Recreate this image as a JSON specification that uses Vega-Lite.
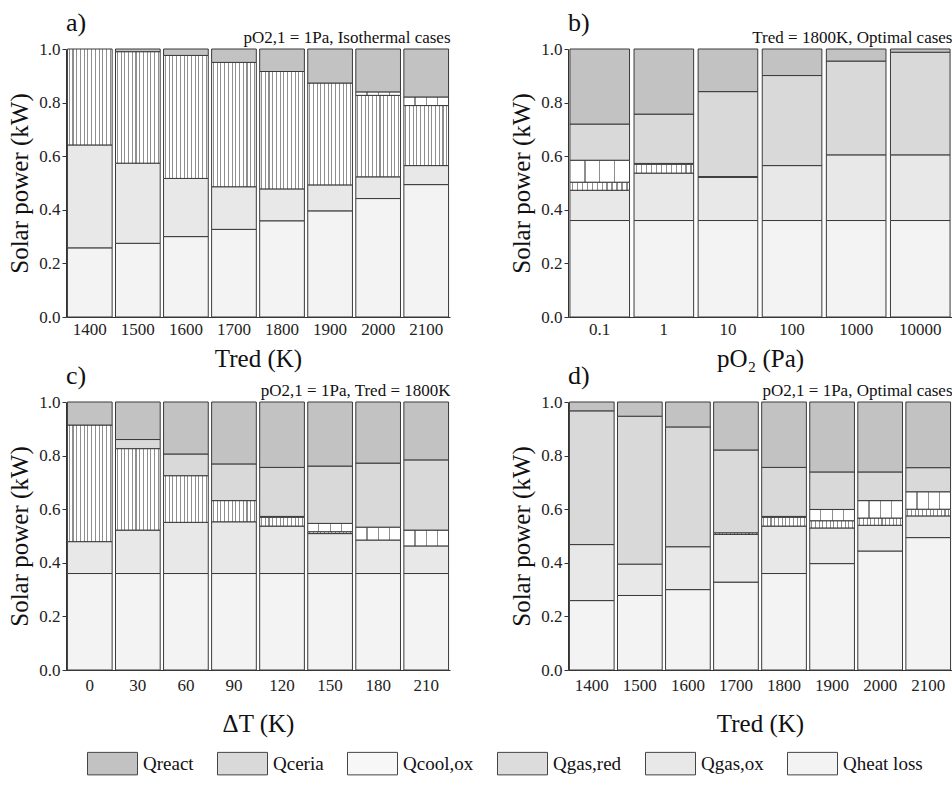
{
  "$schema": "https://vega.github.io/schema/vega-lite/v6.json",
  "padding": {"left": 7, "top": 10, "right": 0, "bottom": 0},
  "config": {
    "font": "Liberation Serif",
    "view": {"stroke": null},
    "axis": {"labelFont": "Liberation Serif", "titleFont": "Liberation Serif", "labelFontSize": 17, "titleFontSize": 25, "titleFontWeight": "normal", "labelColor": "#222", "titleColor": "#111", "domainColor": "#333", "tickColor": "#333", "grid": false},
    "axisY": {"tickSize": 4, "labelPadding": 2, "titlePadding": 6},
    "axisX": {"ticks": false, "labelPadding": 4, "titlePadding": 9},
    "title": {"font": "Liberation Serif", "fontSize": 26, "fontWeight": "normal", "anchor": "start", "frame": "group", "offset": -8, "color": "#111"},
    "legend": {"labelFont": "Liberation Serif", "labelFontSize": 19, "labelColor": "#111"}
  },
  "datasets": {
    "a": [
      {"x": 1400, "comp": "Qheat loss", "v": 0.258}, {"x": 1400, "comp": "Qgas,ox", "v": 0.384}, {"x": 1400, "comp": "Qgas,red", "v": 0.358},
      {"x": 1500, "comp": "Qheat loss", "v": 0.275}, {"x": 1500, "comp": "Qgas,ox", "v": 0.299}, {"x": 1500, "comp": "Qgas,red", "v": 0.416}, {"x": 1500, "comp": "Qreact", "v": 0.010},
      {"x": 1600, "comp": "Qheat loss", "v": 0.300}, {"x": 1600, "comp": "Qgas,ox", "v": 0.217}, {"x": 1600, "comp": "Qgas,red", "v": 0.459}, {"x": 1600, "comp": "Qreact", "v": 0.024},
      {"x": 1700, "comp": "Qheat loss", "v": 0.327}, {"x": 1700, "comp": "Qgas,ox", "v": 0.159}, {"x": 1700, "comp": "Qgas,red", "v": 0.464}, {"x": 1700, "comp": "Qreact", "v": 0.050},
      {"x": 1800, "comp": "Qheat loss", "v": 0.359}, {"x": 1800, "comp": "Qgas,ox", "v": 0.119}, {"x": 1800, "comp": "Qgas,red", "v": 0.438}, {"x": 1800, "comp": "Qreact", "v": 0.084},
      {"x": 1900, "comp": "Qheat loss", "v": 0.396}, {"x": 1900, "comp": "Qgas,ox", "v": 0.097}, {"x": 1900, "comp": "Qgas,red", "v": 0.380}, {"x": 1900, "comp": "Qreact", "v": 0.127},
      {"x": 2000, "comp": "Qheat loss", "v": 0.442}, {"x": 2000, "comp": "Qgas,ox", "v": 0.081}, {"x": 2000, "comp": "Qgas,red", "v": 0.304}, {"x": 2000, "comp": "Qcool,ox", "v": 0.013}, {"x": 2000, "comp": "Qreact", "v": 0.160},
      {"x": 2100, "comp": "Qheat loss", "v": 0.494}, {"x": 2100, "comp": "Qgas,ox", "v": 0.071}, {"x": 2100, "comp": "Qgas,red", "v": 0.224}, {"x": 2100, "comp": "Qcool,ox", "v": 0.032}, {"x": 2100, "comp": "Qreact", "v": 0.179}
    ],
    "b": [
      {"x": 0.1, "comp": "Qheat loss", "v": 0.360}, {"x": 0.1, "comp": "Qgas,ox", "v": 0.113}, {"x": 0.1, "comp": "Qgas,red", "v": 0.030}, {"x": 0.1, "comp": "Qcool,ox", "v": 0.082}, {"x": 0.1, "comp": "Qceria", "v": 0.135}, {"x": 0.1, "comp": "Qreact", "v": 0.280},
      {"x": 1, "comp": "Qheat loss", "v": 0.360}, {"x": 1, "comp": "Qgas,ox", "v": 0.177}, {"x": 1, "comp": "Qgas,red", "v": 0.033}, {"x": 1, "comp": "Qcool,ox", "v": 0.003}, {"x": 1, "comp": "Qceria", "v": 0.184}, {"x": 1, "comp": "Qreact", "v": 0.243},
      {"x": 10, "comp": "Qheat loss", "v": 0.360}, {"x": 10, "comp": "Qgas,ox", "v": 0.161}, {"x": 10, "comp": "Qgas,red", "v": 0.003}, {"x": 10, "comp": "Qceria", "v": 0.317}, {"x": 10, "comp": "Qreact", "v": 0.159},
      {"x": 100, "comp": "Qheat loss", "v": 0.360}, {"x": 100, "comp": "Qgas,ox", "v": 0.205}, {"x": 100, "comp": "Qceria", "v": 0.336}, {"x": 100, "comp": "Qreact", "v": 0.099},
      {"x": 1000, "comp": "Qheat loss", "v": 0.360}, {"x": 1000, "comp": "Qgas,ox", "v": 0.245}, {"x": 1000, "comp": "Qceria", "v": 0.350}, {"x": 1000, "comp": "Qreact", "v": 0.045},
      {"x": 10000, "comp": "Qheat loss", "v": 0.360}, {"x": 10000, "comp": "Qgas,ox", "v": 0.245}, {"x": 10000, "comp": "Qceria", "v": 0.383}, {"x": 10000, "comp": "Qreact", "v": 0.012}
    ],
    "c": [
      {"x": 0, "comp": "Qheat loss", "v": 0.360}, {"x": 0, "comp": "Qgas,ox", "v": 0.119}, {"x": 0, "comp": "Qgas,red", "v": 0.435}, {"x": 0, "comp": "Qreact", "v": 0.086},
      {"x": 30, "comp": "Qheat loss", "v": 0.360}, {"x": 30, "comp": "Qgas,ox", "v": 0.162}, {"x": 30, "comp": "Qgas,red", "v": 0.304}, {"x": 30, "comp": "Qceria", "v": 0.034}, {"x": 30, "comp": "Qreact", "v": 0.140},
      {"x": 60, "comp": "Qheat loss", "v": 0.360}, {"x": 60, "comp": "Qgas,ox", "v": 0.191}, {"x": 60, "comp": "Qgas,red", "v": 0.174}, {"x": 60, "comp": "Qceria", "v": 0.081}, {"x": 60, "comp": "Qreact", "v": 0.194},
      {"x": 90, "comp": "Qheat loss", "v": 0.360}, {"x": 90, "comp": "Qgas,ox", "v": 0.193}, {"x": 90, "comp": "Qgas,red", "v": 0.079}, {"x": 90, "comp": "Qceria", "v": 0.137}, {"x": 90, "comp": "Qreact", "v": 0.231},
      {"x": 120, "comp": "Qheat loss", "v": 0.360}, {"x": 120, "comp": "Qgas,ox", "v": 0.177}, {"x": 120, "comp": "Qgas,red", "v": 0.033}, {"x": 120, "comp": "Qcool,ox", "v": 0.003}, {"x": 120, "comp": "Qceria", "v": 0.183}, {"x": 120, "comp": "Qreact", "v": 0.244},
      {"x": 150, "comp": "Qheat loss", "v": 0.360}, {"x": 150, "comp": "Qgas,ox", "v": 0.149}, {"x": 150, "comp": "Qgas,red", "v": 0.007}, {"x": 150, "comp": "Qcool,ox", "v": 0.031}, {"x": 150, "comp": "Qceria", "v": 0.214}, {"x": 150, "comp": "Qreact", "v": 0.239},
      {"x": 180, "comp": "Qheat loss", "v": 0.360}, {"x": 180, "comp": "Qgas,ox", "v": 0.125}, {"x": 180, "comp": "Qcool,ox", "v": 0.048}, {"x": 180, "comp": "Qceria", "v": 0.239}, {"x": 180, "comp": "Qreact", "v": 0.228},
      {"x": 210, "comp": "Qheat loss", "v": 0.360}, {"x": 210, "comp": "Qgas,ox", "v": 0.103}, {"x": 210, "comp": "Qcool,ox", "v": 0.059}, {"x": 210, "comp": "Qceria", "v": 0.262}, {"x": 210, "comp": "Qreact", "v": 0.216}
    ],
    "d": [
      {"x": 1400, "comp": "Qheat loss", "v": 0.259}, {"x": 1400, "comp": "Qgas,ox", "v": 0.209}, {"x": 1400, "comp": "Qceria", "v": 0.499}, {"x": 1400, "comp": "Qreact", "v": 0.033},
      {"x": 1500, "comp": "Qheat loss", "v": 0.278}, {"x": 1500, "comp": "Qgas,ox", "v": 0.117}, {"x": 1500, "comp": "Qceria", "v": 0.552}, {"x": 1500, "comp": "Qreact", "v": 0.053},
      {"x": 1600, "comp": "Qheat loss", "v": 0.300}, {"x": 1600, "comp": "Qgas,ox", "v": 0.160}, {"x": 1600, "comp": "Qceria", "v": 0.447}, {"x": 1600, "comp": "Qreact", "v": 0.093},
      {"x": 1700, "comp": "Qheat loss", "v": 0.328}, {"x": 1700, "comp": "Qgas,ox", "v": 0.178}, {"x": 1700, "comp": "Qgas,red", "v": 0.006}, {"x": 1700, "comp": "Qceria", "v": 0.309}, {"x": 1700, "comp": "Qreact", "v": 0.179},
      {"x": 1800, "comp": "Qheat loss", "v": 0.360}, {"x": 1800, "comp": "Qgas,ox", "v": 0.177}, {"x": 1800, "comp": "Qgas,red", "v": 0.033}, {"x": 1800, "comp": "Qcool,ox", "v": 0.003}, {"x": 1800, "comp": "Qceria", "v": 0.183}, {"x": 1800, "comp": "Qreact", "v": 0.244},
      {"x": 1900, "comp": "Qheat loss", "v": 0.397}, {"x": 1900, "comp": "Qgas,ox", "v": 0.133}, {"x": 1900, "comp": "Qgas,red", "v": 0.027}, {"x": 1900, "comp": "Qcool,ox", "v": 0.042}, {"x": 1900, "comp": "Qceria", "v": 0.140}, {"x": 1900, "comp": "Qreact", "v": 0.261},
      {"x": 2000, "comp": "Qheat loss", "v": 0.444}, {"x": 2000, "comp": "Qgas,ox", "v": 0.096}, {"x": 2000, "comp": "Qgas,red", "v": 0.027}, {"x": 2000, "comp": "Qcool,ox", "v": 0.065}, {"x": 2000, "comp": "Qceria", "v": 0.107}, {"x": 2000, "comp": "Qreact", "v": 0.261},
      {"x": 2100, "comp": "Qheat loss", "v": 0.494}, {"x": 2100, "comp": "Qgas,ox", "v": 0.081}, {"x": 2100, "comp": "Qgas,red", "v": 0.025}, {"x": 2100, "comp": "Qcool,ox", "v": 0.065}, {"x": 2100, "comp": "Qceria", "v": 0.090}, {"x": 2100, "comp": "Qreact", "v": 0.245}
    ]
  },
  "vconcat": [
    {"hconcat": [
      {"width": 384, "height": 268, "data": {"name": "a"}, "title": {"text": "a)"},
       "layer": [
         {"transform": [{"calculate": "indexof(['Qheat loss','Qgas,ox','Qgas,red','Qcool,ox','Qceria','Qreact'], datum.comp)", "as": "k"}],
          "mark": {"type": "bar", "stroke": "#3a3a3a", "strokeWidth": 1},
          "encoding": {
            "x": {"field": "x", "type": "ordinal", "scale": {"paddingInner": 0.07, "paddingOuter": 0.03}, "axis": {"title": "Tred (K)", "labelAngle": 0}},
            "y": {"field": "v", "type": "quantitative", "stack": "zero", "scale": {"domain": [0, 1]}, "axis": {"title": "Solar power (kW)", "values": [0, 0.2, 0.4, 0.6, 0.8, 1.0], "format": ".1f"}},
            "order": {"field": "k", "type": "quantitative", "sort": "ascending"},
            "color": {
              "condition": [
                {"test": "datum.comp === 'Qgas,red'", "value": {"gradient": "linear", "x1": 0, "y1": 0, "x2": 1, "y2": 0, "stops": [{"offset": 0, "color": "#ffffff"}, {"offset": 0.0297, "color": "#ffffff"}, {"offset": 0.0297, "color": "#8f8f8f"}, {"offset": 0.0537, "color": "#8f8f8f"}, {"offset": 0.0537, "color": "#ffffff"}, {"offset": 0.113, "color": "#ffffff"}, {"offset": 0.113, "color": "#8f8f8f"}, {"offset": 0.137, "color": "#8f8f8f"}, {"offset": 0.137, "color": "#ffffff"}, {"offset": 0.1963, "color": "#ffffff"}, {"offset": 0.1963, "color": "#8f8f8f"}, {"offset": 0.2203, "color": "#8f8f8f"}, {"offset": 0.2203, "color": "#ffffff"}, {"offset": 0.2797, "color": "#ffffff"}, {"offset": 0.2797, "color": "#8f8f8f"}, {"offset": 0.3037, "color": "#8f8f8f"}, {"offset": 0.3037, "color": "#ffffff"}, {"offset": 0.363, "color": "#ffffff"}, {"offset": 0.363, "color": "#8f8f8f"}, {"offset": 0.387, "color": "#8f8f8f"}, {"offset": 0.387, "color": "#ffffff"}, {"offset": 0.4463, "color": "#ffffff"}, {"offset": 0.4463, "color": "#8f8f8f"}, {"offset": 0.4703, "color": "#8f8f8f"}, {"offset": 0.4703, "color": "#ffffff"}, {"offset": 0.5297, "color": "#ffffff"}, {"offset": 0.5297, "color": "#8f8f8f"}, {"offset": 0.5537, "color": "#8f8f8f"}, {"offset": 0.5537, "color": "#ffffff"}, {"offset": 0.613, "color": "#ffffff"}, {"offset": 0.613, "color": "#8f8f8f"}, {"offset": 0.637, "color": "#8f8f8f"}, {"offset": 0.637, "color": "#ffffff"}, {"offset": 0.6963, "color": "#ffffff"}, {"offset": 0.6963, "color": "#8f8f8f"}, {"offset": 0.7203, "color": "#8f8f8f"}, {"offset": 0.7203, "color": "#ffffff"}, {"offset": 0.7797, "color": "#ffffff"}, {"offset": 0.7797, "color": "#8f8f8f"}, {"offset": 0.8037, "color": "#8f8f8f"}, {"offset": 0.8037, "color": "#ffffff"}, {"offset": 0.863, "color": "#ffffff"}, {"offset": 0.863, "color": "#8f8f8f"}, {"offset": 0.887, "color": "#8f8f8f"}, {"offset": 0.887, "color": "#ffffff"}, {"offset": 0.9463, "color": "#ffffff"}, {"offset": 0.9463, "color": "#8f8f8f"}, {"offset": 0.9703, "color": "#8f8f8f"}, {"offset": 0.9703, "color": "#ffffff"}, {"offset": 1, "color": "#ffffff"}]}},
                {"test": "datum.comp === 'Qcool,ox'", "value": {"gradient": "linear", "x1": 0, "y1": 0, "x2": 1, "y2": 0, "stops": [{"offset": 0, "color": "#ffffff"}, {"offset": 0.238, "color": "#ffffff"}, {"offset": 0.238, "color": "#8f8f8f"}, {"offset": 0.262, "color": "#8f8f8f"}, {"offset": 0.262, "color": "#ffffff"}, {"offset": 0.488, "color": "#ffffff"}, {"offset": 0.488, "color": "#8f8f8f"}, {"offset": 0.512, "color": "#8f8f8f"}, {"offset": 0.512, "color": "#ffffff"}, {"offset": 0.738, "color": "#ffffff"}, {"offset": 0.738, "color": "#8f8f8f"}, {"offset": 0.762, "color": "#8f8f8f"}, {"offset": 0.762, "color": "#ffffff"}, {"offset": 1, "color": "#ffffff"}]}}
              ],
              "field": "comp", "type": "nominal",
              "scale": {"domain": ["Qreact", "Qceria", "Qcool,ox", "Qgas,red", "Qgas,ox", "Qheat loss"],
                "range": ["#c2c2c2", "#d9d9d9", "#f7f7f7", "#dcdcdc", "#e8e8e8", "#f3f3f3"]},
              "legend": {"title": null, "orient": "none", "legendX": 21, "legendY": 689, "direction": "horizontal", "symbolType": "M-1,-0.45H1V0.45H-1Z", "symbolSize": 2500, "symbolStrokeColor": "#444", "symbolStrokeWidth": 1, "symbolOpacity": 1, "labelOffset": 5, "columnPadding": 21,
                "encode": {"symbols": {"update": {
                  "stroke": {"value": "#444444"}, "strokeWidth": {"value": 1}, "opacity": {"value": 1},
                  "fill": [
                  {"test": "datum.value === 'Qgas,red'", "value": {"gradient": "linear", "x1": 0, "y1": 0, "x2": 1, "y2": 0, "stops": [{"offset": 0, "color": "#ffffff"}, {"offset": 0.0297, "color": "#ffffff"}, {"offset": 0.0297, "color": "#8f8f8f"}, {"offset": 0.0537, "color": "#8f8f8f"}, {"offset": 0.0537, "color": "#ffffff"}, {"offset": 0.113, "color": "#ffffff"}, {"offset": 0.113, "color": "#8f8f8f"}, {"offset": 0.137, "color": "#8f8f8f"}, {"offset": 0.137, "color": "#ffffff"}, {"offset": 0.1963, "color": "#ffffff"}, {"offset": 0.1963, "color": "#8f8f8f"}, {"offset": 0.2203, "color": "#8f8f8f"}, {"offset": 0.2203, "color": "#ffffff"}, {"offset": 0.2797, "color": "#ffffff"}, {"offset": 0.2797, "color": "#8f8f8f"}, {"offset": 0.3037, "color": "#8f8f8f"}, {"offset": 0.3037, "color": "#ffffff"}, {"offset": 0.363, "color": "#ffffff"}, {"offset": 0.363, "color": "#8f8f8f"}, {"offset": 0.387, "color": "#8f8f8f"}, {"offset": 0.387, "color": "#ffffff"}, {"offset": 0.4463, "color": "#ffffff"}, {"offset": 0.4463, "color": "#8f8f8f"}, {"offset": 0.4703, "color": "#8f8f8f"}, {"offset": 0.4703, "color": "#ffffff"}, {"offset": 0.5297, "color": "#ffffff"}, {"offset": 0.5297, "color": "#8f8f8f"}, {"offset": 0.5537, "color": "#8f8f8f"}, {"offset": 0.5537, "color": "#ffffff"}, {"offset": 0.613, "color": "#ffffff"}, {"offset": 0.613, "color": "#8f8f8f"}, {"offset": 0.637, "color": "#8f8f8f"}, {"offset": 0.637, "color": "#ffffff"}, {"offset": 0.6963, "color": "#ffffff"}, {"offset": 0.6963, "color": "#8f8f8f"}, {"offset": 0.7203, "color": "#8f8f8f"}, {"offset": 0.7203, "color": "#ffffff"}, {"offset": 0.7797, "color": "#ffffff"}, {"offset": 0.7797, "color": "#8f8f8f"}, {"offset": 0.8037, "color": "#8f8f8f"}, {"offset": 0.8037, "color": "#ffffff"}, {"offset": 0.863, "color": "#ffffff"}, {"offset": 0.863, "color": "#8f8f8f"}, {"offset": 0.887, "color": "#8f8f8f"}, {"offset": 0.887, "color": "#ffffff"}, {"offset": 0.9463, "color": "#ffffff"}, {"offset": 0.9463, "color": "#8f8f8f"}, {"offset": 0.9703, "color": "#8f8f8f"}, {"offset": 0.9703, "color": "#ffffff"}, {"offset": 1, "color": "#ffffff"}]}},
                  {"test": "datum.value === 'Qcool,ox'", "value": {"gradient": "linear", "x1": 0, "y1": 0, "x2": 1, "y2": 0, "stops": [{"offset": 0, "color": "#ffffff"}, {"offset": 0.238, "color": "#ffffff"}, {"offset": 0.238, "color": "#8f8f8f"}, {"offset": 0.262, "color": "#8f8f8f"}, {"offset": 0.262, "color": "#ffffff"}, {"offset": 0.488, "color": "#ffffff"}, {"offset": 0.488, "color": "#8f8f8f"}, {"offset": 0.512, "color": "#8f8f8f"}, {"offset": 0.512, "color": "#ffffff"}, {"offset": 0.738, "color": "#ffffff"}, {"offset": 0.738, "color": "#8f8f8f"}, {"offset": 0.762, "color": "#8f8f8f"}, {"offset": 0.762, "color": "#ffffff"}, {"offset": 1, "color": "#ffffff"}]}},
                  {"scale": "color", "field": "value"}
                ]}}}}}
          }},
         {"mark": {"type": "rule", "opacity": 0},
          "encoding": {"x": {"field": "x", "type": "ordinal", "axis": {"orient": "top", "title": "pO2,1 = 1Pa, Isothermal cases", "titleFontSize": 17, "titleAnchor": "end", "labels": false, "ticks": false, "domain": false, "titlePadding": 3}}}}
       ],
       "resolve": {"axis": {"x": "independent"}}},
      {"width": 384, "height": 268, "data": {"name": "b"}, "title": {"text": "b)"},
       "layer": [
         {"transform": [{"calculate": "indexof(['Qheat loss','Qgas,ox','Qgas,red','Qcool,ox','Qceria','Qreact'], datum.comp)", "as": "k"}],
          "mark": {"type": "bar", "stroke": "#3a3a3a", "strokeWidth": 1},
          "encoding": {
            "x": {"field": "x", "type": "ordinal", "scale": {"paddingInner": 0.07, "paddingOuter": 0.03}, "axis": {"title": "pO₂ (Pa)", "labelAngle": 0}},
            "y": {"field": "v", "type": "quantitative", "stack": "zero", "scale": {"domain": [0, 1]}, "axis": {"title": "Solar power (kW)", "values": [0, 0.2, 0.4, 0.6, 0.8, 1.0], "format": ".1f"}},
            "order": {"field": "k", "type": "quantitative", "sort": "ascending"},
            "color": {
              "condition": [
                {"test": "datum.comp === 'Qgas,red'", "value": {"gradient": "linear", "x1": 0, "y1": 0, "x2": 1, "y2": 0, "stops": [{"offset": 0, "color": "#ffffff"}, {"offset": 0.0297, "color": "#ffffff"}, {"offset": 0.0297, "color": "#8f8f8f"}, {"offset": 0.0537, "color": "#8f8f8f"}, {"offset": 0.0537, "color": "#ffffff"}, {"offset": 0.113, "color": "#ffffff"}, {"offset": 0.113, "color": "#8f8f8f"}, {"offset": 0.137, "color": "#8f8f8f"}, {"offset": 0.137, "color": "#ffffff"}, {"offset": 0.1963, "color": "#ffffff"}, {"offset": 0.1963, "color": "#8f8f8f"}, {"offset": 0.2203, "color": "#8f8f8f"}, {"offset": 0.2203, "color": "#ffffff"}, {"offset": 0.2797, "color": "#ffffff"}, {"offset": 0.2797, "color": "#8f8f8f"}, {"offset": 0.3037, "color": "#8f8f8f"}, {"offset": 0.3037, "color": "#ffffff"}, {"offset": 0.363, "color": "#ffffff"}, {"offset": 0.363, "color": "#8f8f8f"}, {"offset": 0.387, "color": "#8f8f8f"}, {"offset": 0.387, "color": "#ffffff"}, {"offset": 0.4463, "color": "#ffffff"}, {"offset": 0.4463, "color": "#8f8f8f"}, {"offset": 0.4703, "color": "#8f8f8f"}, {"offset": 0.4703, "color": "#ffffff"}, {"offset": 0.5297, "color": "#ffffff"}, {"offset": 0.5297, "color": "#8f8f8f"}, {"offset": 0.5537, "color": "#8f8f8f"}, {"offset": 0.5537, "color": "#ffffff"}, {"offset": 0.613, "color": "#ffffff"}, {"offset": 0.613, "color": "#8f8f8f"}, {"offset": 0.637, "color": "#8f8f8f"}, {"offset": 0.637, "color": "#ffffff"}, {"offset": 0.6963, "color": "#ffffff"}, {"offset": 0.6963, "color": "#8f8f8f"}, {"offset": 0.7203, "color": "#8f8f8f"}, {"offset": 0.7203, "color": "#ffffff"}, {"offset": 0.7797, "color": "#ffffff"}, {"offset": 0.7797, "color": "#8f8f8f"}, {"offset": 0.8037, "color": "#8f8f8f"}, {"offset": 0.8037, "color": "#ffffff"}, {"offset": 0.863, "color": "#ffffff"}, {"offset": 0.863, "color": "#8f8f8f"}, {"offset": 0.887, "color": "#8f8f8f"}, {"offset": 0.887, "color": "#ffffff"}, {"offset": 0.9463, "color": "#ffffff"}, {"offset": 0.9463, "color": "#8f8f8f"}, {"offset": 0.9703, "color": "#8f8f8f"}, {"offset": 0.9703, "color": "#ffffff"}, {"offset": 1, "color": "#ffffff"}]}},
                {"test": "datum.comp === 'Qcool,ox'", "value": {"gradient": "linear", "x1": 0, "y1": 0, "x2": 1, "y2": 0, "stops": [{"offset": 0, "color": "#ffffff"}, {"offset": 0.238, "color": "#ffffff"}, {"offset": 0.238, "color": "#8f8f8f"}, {"offset": 0.262, "color": "#8f8f8f"}, {"offset": 0.262, "color": "#ffffff"}, {"offset": 0.488, "color": "#ffffff"}, {"offset": 0.488, "color": "#8f8f8f"}, {"offset": 0.512, "color": "#8f8f8f"}, {"offset": 0.512, "color": "#ffffff"}, {"offset": 0.738, "color": "#ffffff"}, {"offset": 0.738, "color": "#8f8f8f"}, {"offset": 0.762, "color": "#8f8f8f"}, {"offset": 0.762, "color": "#ffffff"}, {"offset": 1, "color": "#ffffff"}]}}
              ],
              "field": "comp", "type": "nominal"}
          }},
         {"mark": {"type": "rule", "opacity": 0},
          "encoding": {"x": {"field": "x", "type": "ordinal", "axis": {"orient": "top", "title": "Tred = 1800K, Optimal cases", "titleFontSize": 17, "titleAnchor": "end", "labels": false, "ticks": false, "domain": false, "titlePadding": 3}}}}
       ],
       "resolve": {"axis": {"x": "independent"}}}
    ], "spacing": 59},
    {"hconcat": [
      {"width": 384, "height": 268, "data": {"name": "c"}, "title": {"text": "c)"},
       "layer": [
         {"transform": [{"calculate": "indexof(['Qheat loss','Qgas,ox','Qgas,red','Qcool,ox','Qceria','Qreact'], datum.comp)", "as": "k"}],
          "mark": {"type": "bar", "stroke": "#3a3a3a", "strokeWidth": 1},
          "encoding": {
            "x": {"field": "x", "type": "ordinal", "scale": {"paddingInner": 0.07, "paddingOuter": 0.03}, "axis": {"title": "ΔT (K)", "labelAngle": 0, "labelPadding": 7, "titlePadding": 18}},
            "y": {"field": "v", "type": "quantitative", "stack": "zero", "scale": {"domain": [0, 1]}, "axis": {"title": "Solar power (kW)", "values": [0, 0.2, 0.4, 0.6, 0.8, 1.0], "format": ".1f"}},
            "order": {"field": "k", "type": "quantitative", "sort": "ascending"},
            "color": {
              "condition": [
                {"test": "datum.comp === 'Qgas,red'", "value": {"gradient": "linear", "x1": 0, "y1": 0, "x2": 1, "y2": 0, "stops": [{"offset": 0, "color": "#ffffff"}, {"offset": 0.0297, "color": "#ffffff"}, {"offset": 0.0297, "color": "#8f8f8f"}, {"offset": 0.0537, "color": "#8f8f8f"}, {"offset": 0.0537, "color": "#ffffff"}, {"offset": 0.113, "color": "#ffffff"}, {"offset": 0.113, "color": "#8f8f8f"}, {"offset": 0.137, "color": "#8f8f8f"}, {"offset": 0.137, "color": "#ffffff"}, {"offset": 0.1963, "color": "#ffffff"}, {"offset": 0.1963, "color": "#8f8f8f"}, {"offset": 0.2203, "color": "#8f8f8f"}, {"offset": 0.2203, "color": "#ffffff"}, {"offset": 0.2797, "color": "#ffffff"}, {"offset": 0.2797, "color": "#8f8f8f"}, {"offset": 0.3037, "color": "#8f8f8f"}, {"offset": 0.3037, "color": "#ffffff"}, {"offset": 0.363, "color": "#ffffff"}, {"offset": 0.363, "color": "#8f8f8f"}, {"offset": 0.387, "color": "#8f8f8f"}, {"offset": 0.387, "color": "#ffffff"}, {"offset": 0.4463, "color": "#ffffff"}, {"offset": 0.4463, "color": "#8f8f8f"}, {"offset": 0.4703, "color": "#8f8f8f"}, {"offset": 0.4703, "color": "#ffffff"}, {"offset": 0.5297, "color": "#ffffff"}, {"offset": 0.5297, "color": "#8f8f8f"}, {"offset": 0.5537, "color": "#8f8f8f"}, {"offset": 0.5537, "color": "#ffffff"}, {"offset": 0.613, "color": "#ffffff"}, {"offset": 0.613, "color": "#8f8f8f"}, {"offset": 0.637, "color": "#8f8f8f"}, {"offset": 0.637, "color": "#ffffff"}, {"offset": 0.6963, "color": "#ffffff"}, {"offset": 0.6963, "color": "#8f8f8f"}, {"offset": 0.7203, "color": "#8f8f8f"}, {"offset": 0.7203, "color": "#ffffff"}, {"offset": 0.7797, "color": "#ffffff"}, {"offset": 0.7797, "color": "#8f8f8f"}, {"offset": 0.8037, "color": "#8f8f8f"}, {"offset": 0.8037, "color": "#ffffff"}, {"offset": 0.863, "color": "#ffffff"}, {"offset": 0.863, "color": "#8f8f8f"}, {"offset": 0.887, "color": "#8f8f8f"}, {"offset": 0.887, "color": "#ffffff"}, {"offset": 0.9463, "color": "#ffffff"}, {"offset": 0.9463, "color": "#8f8f8f"}, {"offset": 0.9703, "color": "#8f8f8f"}, {"offset": 0.9703, "color": "#ffffff"}, {"offset": 1, "color": "#ffffff"}]}},
                {"test": "datum.comp === 'Qcool,ox'", "value": {"gradient": "linear", "x1": 0, "y1": 0, "x2": 1, "y2": 0, "stops": [{"offset": 0, "color": "#ffffff"}, {"offset": 0.238, "color": "#ffffff"}, {"offset": 0.238, "color": "#8f8f8f"}, {"offset": 0.262, "color": "#8f8f8f"}, {"offset": 0.262, "color": "#ffffff"}, {"offset": 0.488, "color": "#ffffff"}, {"offset": 0.488, "color": "#8f8f8f"}, {"offset": 0.512, "color": "#8f8f8f"}, {"offset": 0.512, "color": "#ffffff"}, {"offset": 0.738, "color": "#ffffff"}, {"offset": 0.738, "color": "#8f8f8f"}, {"offset": 0.762, "color": "#8f8f8f"}, {"offset": 0.762, "color": "#ffffff"}, {"offset": 1, "color": "#ffffff"}]}}
              ],
              "field": "comp", "type": "nominal"}
          }},
         {"mark": {"type": "rule", "opacity": 0},
          "encoding": {"x": {"field": "x", "type": "ordinal", "axis": {"orient": "top", "title": "pO2,1 = 1Pa, Tred = 1800K", "titleFontSize": 17, "titleAnchor": "end", "labels": false, "ticks": false, "domain": false, "titlePadding": 3}}}}
       ],
       "resolve": {"axis": {"x": "independent"}}},
      {"width": 384, "height": 268, "data": {"name": "d"}, "title": {"text": "d)"},
       "layer": [
         {"transform": [{"calculate": "indexof(['Qheat loss','Qgas,ox','Qgas,red','Qcool,ox','Qceria','Qreact'], datum.comp)", "as": "k"}],
          "mark": {"type": "bar", "stroke": "#3a3a3a", "strokeWidth": 1},
          "encoding": {
            "x": {"field": "x", "type": "ordinal", "scale": {"paddingInner": 0.07, "paddingOuter": 0.03}, "axis": {"title": "Tred (K)", "labelAngle": 0, "labelPadding": 7, "titlePadding": 18}},
            "y": {"field": "v", "type": "quantitative", "stack": "zero", "scale": {"domain": [0, 1]}, "axis": {"title": "Solar power (kW)", "values": [0, 0.2, 0.4, 0.6, 0.8, 1.0], "format": ".1f"}},
            "order": {"field": "k", "type": "quantitative", "sort": "ascending"},
            "color": {
              "condition": [
                {"test": "datum.comp === 'Qgas,red'", "value": {"gradient": "linear", "x1": 0, "y1": 0, "x2": 1, "y2": 0, "stops": [{"offset": 0, "color": "#ffffff"}, {"offset": 0.0297, "color": "#ffffff"}, {"offset": 0.0297, "color": "#8f8f8f"}, {"offset": 0.0537, "color": "#8f8f8f"}, {"offset": 0.0537, "color": "#ffffff"}, {"offset": 0.113, "color": "#ffffff"}, {"offset": 0.113, "color": "#8f8f8f"}, {"offset": 0.137, "color": "#8f8f8f"}, {"offset": 0.137, "color": "#ffffff"}, {"offset": 0.1963, "color": "#ffffff"}, {"offset": 0.1963, "color": "#8f8f8f"}, {"offset": 0.2203, "color": "#8f8f8f"}, {"offset": 0.2203, "color": "#ffffff"}, {"offset": 0.2797, "color": "#ffffff"}, {"offset": 0.2797, "color": "#8f8f8f"}, {"offset": 0.3037, "color": "#8f8f8f"}, {"offset": 0.3037, "color": "#ffffff"}, {"offset": 0.363, "color": "#ffffff"}, {"offset": 0.363, "color": "#8f8f8f"}, {"offset": 0.387, "color": "#8f8f8f"}, {"offset": 0.387, "color": "#ffffff"}, {"offset": 0.4463, "color": "#ffffff"}, {"offset": 0.4463, "color": "#8f8f8f"}, {"offset": 0.4703, "color": "#8f8f8f"}, {"offset": 0.4703, "color": "#ffffff"}, {"offset": 0.5297, "color": "#ffffff"}, {"offset": 0.5297, "color": "#8f8f8f"}, {"offset": 0.5537, "color": "#8f8f8f"}, {"offset": 0.5537, "color": "#ffffff"}, {"offset": 0.613, "color": "#ffffff"}, {"offset": 0.613, "color": "#8f8f8f"}, {"offset": 0.637, "color": "#8f8f8f"}, {"offset": 0.637, "color": "#ffffff"}, {"offset": 0.6963, "color": "#ffffff"}, {"offset": 0.6963, "color": "#8f8f8f"}, {"offset": 0.7203, "color": "#8f8f8f"}, {"offset": 0.7203, "color": "#ffffff"}, {"offset": 0.7797, "color": "#ffffff"}, {"offset": 0.7797, "color": "#8f8f8f"}, {"offset": 0.8037, "color": "#8f8f8f"}, {"offset": 0.8037, "color": "#ffffff"}, {"offset": 0.863, "color": "#ffffff"}, {"offset": 0.863, "color": "#8f8f8f"}, {"offset": 0.887, "color": "#8f8f8f"}, {"offset": 0.887, "color": "#ffffff"}, {"offset": 0.9463, "color": "#ffffff"}, {"offset": 0.9463, "color": "#8f8f8f"}, {"offset": 0.9703, "color": "#8f8f8f"}, {"offset": 0.9703, "color": "#ffffff"}, {"offset": 1, "color": "#ffffff"}]}},
                {"test": "datum.comp === 'Qcool,ox'", "value": {"gradient": "linear", "x1": 0, "y1": 0, "x2": 1, "y2": 0, "stops": [{"offset": 0, "color": "#ffffff"}, {"offset": 0.238, "color": "#ffffff"}, {"offset": 0.238, "color": "#8f8f8f"}, {"offset": 0.262, "color": "#8f8f8f"}, {"offset": 0.262, "color": "#ffffff"}, {"offset": 0.488, "color": "#ffffff"}, {"offset": 0.488, "color": "#8f8f8f"}, {"offset": 0.512, "color": "#8f8f8f"}, {"offset": 0.512, "color": "#ffffff"}, {"offset": 0.738, "color": "#ffffff"}, {"offset": 0.738, "color": "#8f8f8f"}, {"offset": 0.762, "color": "#8f8f8f"}, {"offset": 0.762, "color": "#ffffff"}, {"offset": 1, "color": "#ffffff"}]}}
              ],
              "field": "comp", "type": "nominal"}
          }},
         {"mark": {"type": "rule", "opacity": 0},
          "encoding": {"x": {"field": "x", "type": "ordinal", "axis": {"orient": "top", "title": "pO2,1 = 1Pa, Optimal cases", "titleFontSize": 17, "titleAnchor": "end", "labels": false, "ticks": false, "domain": false, "titlePadding": 3}}}}
       ],
       "resolve": {"axis": {"x": "independent"}}}
    ], "spacing": 59}
  ],
  "spacing": -8,
  "resolve": {"scale": {"x": "independent", "color": "shared"}, "legend": {"color": "shared"}}
}
